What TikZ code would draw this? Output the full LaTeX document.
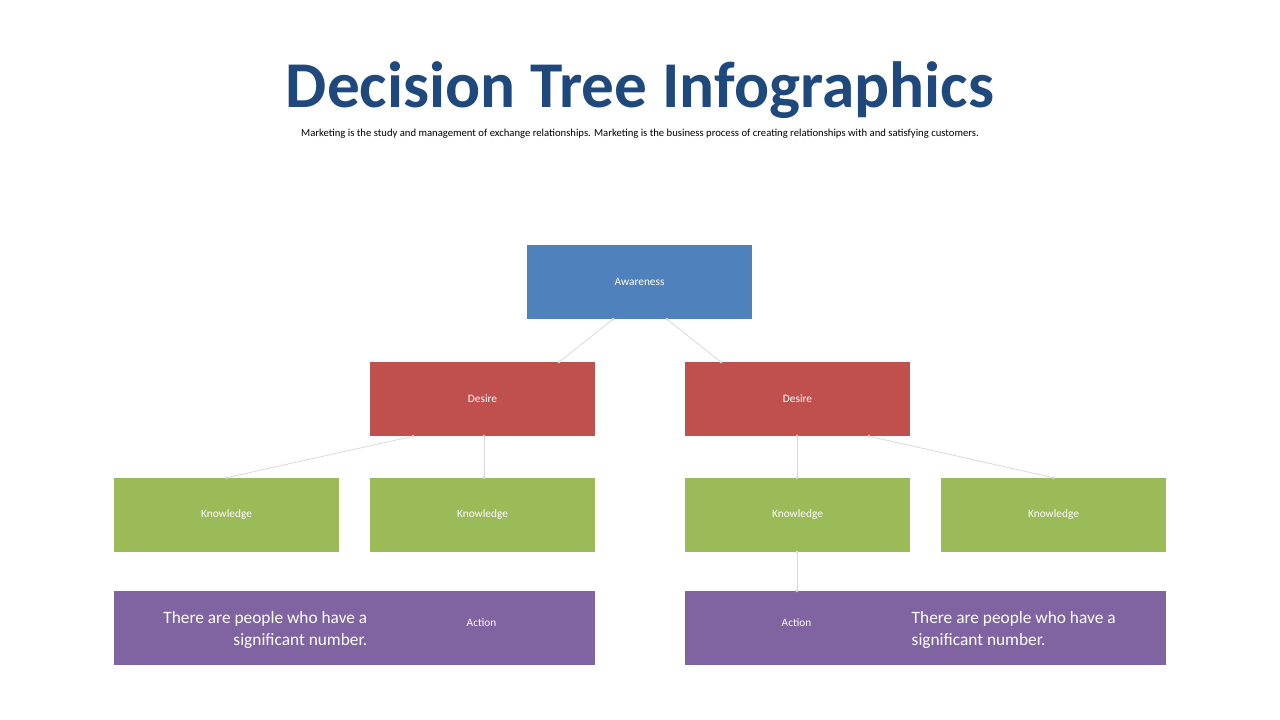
\documentclass[tikz,border=0pt]{standalone}
\usepackage{fontspec}
\setmainfont{Carlito}
\usetikzlibrary{calc}
\definecolor{titleblue}{HTML}{1F497D}
\definecolor{awblue}{HTML}{4F81BD}
\definecolor{dred}{HTML}{C0504D}
\definecolor{kgreen}{HTML}{9BBB59}
\definecolor{apurple}{HTML}{8064A2}
\definecolor{linkgray}{HTML}{D9D9D9}

\begin{document}
\begin{tikzpicture}[
  x=0.75pt, y=-0.75pt,
  font=\fontsize{8.5}{10}\selectfont,
  box/.style={rectangle, draw=none, text=white, minimum width=168.75pt, minimum height=55.5pt, inner sep=0pt},
  wide/.style={box, minimum width=360.75pt},
  link/.style={draw=linkgray, line width=0.6pt},
  dot/.style={circle, fill=linkgray, inner sep=0pt, minimum size=2.5pt}
]
\useasboundingbox (0,0) rectangle (1280,720);

% Title
\node[text=titleblue, font=\fontsize{49}{58}\selectfont\bfseries] (title) at (640,90) {Decision Tree Infographics};
\node[font=\fontsize{8}{10}\selectfont] (sub) at (640,134) {Marketing is the study and management of exchange relationships. Marketing is the business process of creating relationships with and satisfying customers.};

% Boxes
\node[box, fill=awblue] (aware) at (639.5,282) {Awareness};
\node[box, fill=dred] (desL) at (482.5,399) {Desire};
\node[box, fill=dred] (desR) at (797.5,399) {Desire};
\node[box, fill=kgreen] (kn1) at (226.5,515) {Knowledge};
\node[box, fill=kgreen] (kn2) at (482.5,515) {Knowledge};
\node[box, fill=kgreen] (kn3) at (797.5,515) {Knowledge};
\node[box, fill=kgreen] (kn4) at (1053.5,515) {Knowledge};
\node[wide, fill=apurple] (actL) at (354.5,628) {};
\node[wide, fill=apurple] (actR) at (925.5,628) {};
\node[text=white] (actLt) at (481.5,623) {Action};
\node[text=white] (actRt) at (796.5,623) {Action};
\node[text=white, align=right, anchor=east, font=\fontsize{13}{17}\selectfont] (noteL) at (372,630) {There are people who have a\\significant number.};
\node[text=white, align=left, anchor=west, font=\fontsize{13}{17}\selectfont] (noteR) at (907,630) {There are people who have a\\significant number.};

% Connector ends
\coordinate (a1) at ($(aware.south)+(-26.5,0)$);
\coordinate (a2) at ($(aware.south)+(27.5,0)$);
\coordinate (l1) at ($(desL.south)+(-69.5,0)$);
\coordinate (l2) at ($(desL.south)+(1.5,0)$);
\coordinate (r1) at ($(desR.south)+(-0.5,0)$);
\coordinate (r2) at ($(desR.south)+(71.5,0)$);
\coordinate (k3) at (797,552);

% Connectors
\foreach \s/\t in {a1/559, a2/721}
  \draw[link] (\s) node[dot] {} -- (\t,362) node[dot] {};
\draw[link] (l1) node[dot] {} -- (kn1.north) node[dot] {};
\draw[link] (l2) node[dot] {} -- (kn2.north -| l2) node[dot] {};
\draw[link] (r1) node[dot] {} -- (kn3.north -| r1) node[dot] {};
\draw[link] (r2) node[dot] {} -- (kn4.north) node[dot] {};
\draw[link] (k3) node[dot] {} -- (actR.north -| k3) node[dot] {};
\end{tikzpicture}
\end{document}
